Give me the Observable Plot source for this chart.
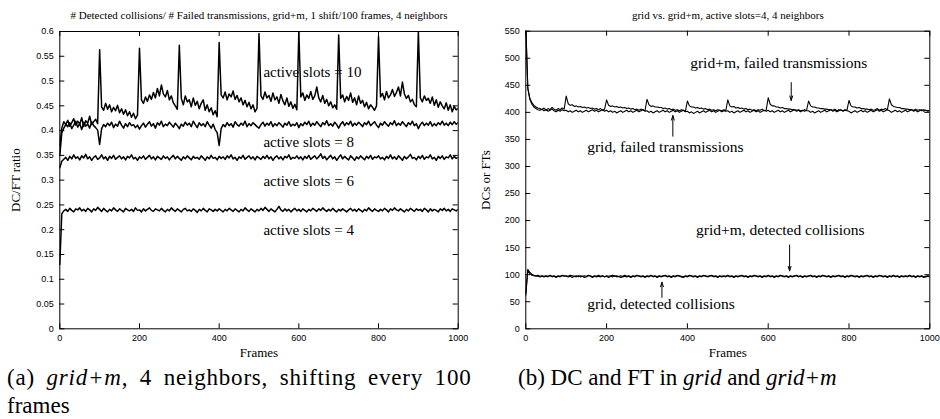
<!DOCTYPE html>
<html><head><meta charset="utf-8">
<script src="https://cdn.jsdelivr.net/npm/d3@7"></script>
<script src="https://cdn.jsdelivr.net/npm/@observablehq/plot@0.6"></script>
<style>
body{margin:0;background:#fff;width:940px;height:419px;position:relative;overflow:hidden}
#a{position:absolute;left:0;top:0}
#b{position:absolute;left:470px;top:0}
.cap{position:absolute;font-family:"Liberation Serif";font-size:23px;line-height:28px;color:#000;white-space:nowrap}
#capA .l1{word-spacing:5px;letter-spacing:0.8px}
</style></head><body>
<div id="a"></div><div id="b"></div>
<div id="capA" class="cap" style="left:7px;top:364px"></div>
<div id="capB" class="cap" style="left:518px;top:364px"></div>
<script>
// ---------- data (frame step = 5) ----------
const frameStep = 5;
const xTicks = [0, 200, 400, 600, 800, 1000];
const yTicksA = [0, 0.05, 0.1, 0.15, 0.2, 0.25, 0.3, 0.35, 0.4, 0.45, 0.5, 0.55, 0.6];
const yTicksB = [0, 50, 100, 150, 200, 250, 300, 350, 400, 450, 500, 550];

const slots10 = [
0.370,0.405,0.418,0.412,0.421,0.409,0.416,0.424,0.411,0.419,
0.413,0.426,0.408,0.420,0.415,0.429,0.412,0.418,0.423,0.414,
0.563,0.448,0.441,0.455,0.443,0.452,0.438,0.447,0.440,0.451,
0.436,0.444,0.433,0.442,0.430,0.438,0.427,0.435,0.424,0.431,
0.566,0.462,0.455,0.468,0.459,0.472,0.463,0.477,0.466,0.485,
0.470,0.492,0.474,0.468,0.481,0.462,0.470,0.456,0.450,0.443,
0.572,0.465,0.452,0.470,0.458,0.462,0.448,0.466,0.451,0.459,
0.444,0.455,0.462,0.441,0.452,0.438,0.446,0.432,0.440,0.428,
0.578,0.472,0.466,0.478,0.462,0.474,0.468,0.480,0.463,0.471,
0.458,0.466,0.452,0.461,0.448,0.457,0.444,0.452,0.438,0.445,
0.596,0.470,0.463,0.478,0.466,0.471,0.459,0.476,0.462,0.468,
0.455,0.473,0.460,0.452,0.466,0.449,0.458,0.445,0.453,0.442,
0.600,0.468,0.476,0.461,0.472,0.465,0.479,0.463,0.470,0.488,
0.466,0.458,0.471,0.455,0.463,0.450,0.458,0.446,0.452,0.443,
0.593,0.465,0.472,0.458,0.469,0.461,0.476,0.457,0.466,0.452,
0.470,0.455,0.461,0.448,0.457,0.444,0.452,0.447,0.441,0.450,
0.590,0.468,0.475,0.462,0.479,0.466,0.472,0.483,0.469,0.477,
0.488,0.470,0.498,0.474,0.465,0.471,0.458,0.463,0.452,0.448,
0.600,0.466,0.458,0.470,0.461,0.465,0.455,0.468,0.451,0.462,
0.447,0.458,0.450,0.444,0.456,0.441,0.452,0.438,0.449,0.442,
0.445];
const slots8 = [
0.350,0.395,0.405,0.412,0.408,0.416,0.404,0.411,0.419,0.407,
0.414,0.402,0.417,0.409,0.413,0.405,0.418,0.410,0.406,0.401,
0.372,0.404,0.412,0.408,0.415,0.410,0.417,0.406,0.413,0.409,
0.419,0.411,0.405,0.414,0.408,0.416,0.410,0.412,0.406,0.411,
0.403,0.410,0.415,0.407,0.413,0.418,0.409,0.414,0.405,0.416,
0.411,0.419,0.408,0.413,0.410,0.417,0.412,0.407,0.415,0.410,
0.404,0.413,0.409,0.417,0.411,0.415,0.408,0.419,0.412,0.406,
0.416,0.410,0.414,0.408,0.418,0.411,0.405,0.413,0.402,0.396,
0.370,0.404,0.412,0.408,0.416,0.410,0.414,0.407,0.418,0.412,
0.409,0.415,0.411,0.419,0.408,0.414,0.410,0.416,0.412,0.408,
0.405,0.412,0.417,0.409,0.415,0.411,0.418,0.408,0.414,0.410,
0.416,0.412,0.407,0.415,0.411,0.418,0.409,0.413,0.410,0.416,
0.406,0.414,0.410,0.417,0.412,0.419,0.409,0.415,0.411,0.418,
0.413,0.408,0.416,0.412,0.420,0.410,0.414,0.409,0.417,0.412,
0.405,0.413,0.418,0.410,0.416,0.412,0.419,0.409,0.415,0.411,
0.417,0.413,0.408,0.416,0.412,0.419,0.410,0.414,0.418,0.411,
0.406,0.415,0.411,0.418,0.413,0.409,0.416,0.412,0.420,0.410,
0.415,0.411,0.418,0.413,0.408,0.416,0.412,0.419,0.410,0.414,
0.404,0.412,0.417,0.410,0.415,0.411,0.418,0.409,0.414,0.410,
0.416,0.412,0.419,0.411,0.415,0.410,0.417,0.412,0.418,0.413,
0.416];
const slots6 = [
0.325,0.338,0.342,0.346,0.340,0.348,0.343,0.351,0.344,0.347,
0.341,0.349,0.345,0.352,0.343,0.347,0.340,0.346,0.349,0.342,
0.345,0.351,0.343,0.347,0.340,0.348,0.344,0.350,0.342,0.346,
0.349,0.343,0.347,0.341,0.348,0.345,0.351,0.343,0.346,0.340,
0.347,0.344,0.349,0.342,0.346,0.350,0.343,0.347,0.341,0.348,
0.345,0.342,0.349,0.344,0.347,0.341,0.346,0.350,0.343,0.348,
0.344,0.340,0.347,0.343,0.349,0.345,0.341,0.348,0.344,0.346,
0.342,0.349,0.345,0.340,0.347,0.343,0.350,0.344,0.346,0.341,
0.348,0.344,0.347,0.342,0.349,0.345,0.351,0.343,0.346,0.340,
0.347,0.344,0.350,0.342,0.346,0.349,0.343,0.347,0.341,0.348,
0.345,0.342,0.348,0.344,0.350,0.343,0.347,0.340,0.346,0.349,
0.343,0.347,0.341,0.348,0.345,0.351,0.342,0.346,0.344,0.349,
0.343,0.347,0.341,0.348,0.344,0.350,0.342,0.346,0.349,0.343,
0.347,0.353,0.344,0.348,0.341,0.346,0.350,0.343,0.347,0.340,
0.346,0.351,0.343,0.348,0.344,0.341,0.349,0.345,0.340,0.347,
0.343,0.349,0.345,0.341,0.348,0.344,0.350,0.342,0.347,0.345,
0.349,0.343,0.346,0.341,0.348,0.344,0.351,0.343,0.347,0.342,
0.349,0.345,0.340,0.348,0.343,0.347,0.352,0.344,0.346,0.341,
0.348,0.344,0.350,0.342,0.347,0.345,0.351,0.343,0.346,0.340,
0.348,0.344,0.349,0.342,0.347,0.345,0.351,0.343,0.348,0.344,
0.346];
const slots4 = [
0.130,0.232,0.238,0.241,0.237,0.243,0.239,0.236,0.242,0.240,
0.244,0.238,0.241,0.237,0.243,0.240,0.236,0.242,0.239,0.245,
0.241,0.237,0.243,0.239,0.236,0.241,0.238,0.244,0.240,0.237,
0.242,0.239,0.236,0.243,0.240,0.238,0.241,0.237,0.244,0.239,
0.240,0.236,0.242,0.238,0.241,0.244,0.239,0.237,0.242,0.240,
0.238,0.243,0.239,0.236,0.241,0.238,0.244,0.240,0.237,0.242,
0.239,0.236,0.241,0.243,0.238,0.240,0.237,0.242,0.239,0.235,
0.241,0.238,0.243,0.239,0.236,0.242,0.240,0.237,0.241,0.238,
0.242,0.239,0.236,0.241,0.238,0.243,0.240,0.237,0.242,0.239,
0.236,0.241,0.238,0.244,0.240,0.237,0.242,0.239,0.236,0.241,
0.238,0.243,0.239,0.245,0.241,0.237,0.242,0.239,0.236,0.241,
0.247,0.240,0.237,0.242,0.238,0.241,0.236,0.240,0.243,0.238,
0.241,0.237,0.242,0.239,0.236,0.241,0.238,0.243,0.240,0.237,
0.242,0.239,0.244,0.240,0.237,0.241,0.238,0.243,0.239,0.236,
0.241,0.238,0.242,0.239,0.236,0.240,0.243,0.238,0.241,0.237,
0.242,0.239,0.236,0.241,0.238,0.244,0.240,0.237,0.242,0.239,
0.237,0.241,0.238,0.243,0.240,0.236,0.242,0.239,0.244,0.240,
0.238,0.242,0.239,0.236,0.241,0.238,0.243,0.240,0.237,0.242,
0.239,0.241,0.237,0.243,0.240,0.236,0.242,0.238,0.241,0.239,
0.236,0.242,0.239,0.243,0.238,0.241,0.237,0.242,0.240,0.238,
0.241];

const ftGridM = [
560,445,426,418,413,410,408,407,405,408,
404,407,405,409,406,404,407,405,408,406,
430,416,413,414,411,412,410,411,409,410,
408,409,407,408,406,407,405,407,404,406,
423,413,411,412,410,411,409,410,408,409,
407,408,406,407,405,406,404,406,405,403,
424,414,411,412,410,410,409,409,407,408,
406,407,405,406,404,405,403,405,404,402,
421,412,410,410,408,409,407,408,406,407,
405,406,404,405,403,405,404,403,405,403,
423,412,410,411,408,409,407,408,406,407,
405,406,404,405,403,405,404,406,403,404,
427,415,412,412,410,410,408,409,407,407,
406,406,405,405,404,405,403,404,402,404,
421,412,410,410,408,408,407,407,406,406,
405,405,404,406,403,405,404,403,405,404,
422,412,410,410,408,409,407,407,406,406,
405,406,404,405,407,404,406,405,407,405,
425,414,411,410,409,409,407,407,406,406,
405,405,404,406,404,405,403,405,404,403,
404];
const ftGrid = [
560,444,424,415,410,407,405,404,406,403,
405,402,404,406,403,401,404,402,405,403,
404,401,403,400,402,404,401,403,400,402,
404,401,403,405,402,404,401,403,405,402,
404,401,403,400,402,399,401,403,400,402,
404,401,403,400,402,404,401,403,405,402,
403,400,402,399,401,403,400,402,404,401,
403,400,402,404,401,403,400,402,404,401,
402,399,401,398,400,402,399,401,403,400,
402,404,401,403,400,402,404,401,403,402,
403,400,402,399,401,403,400,402,404,401,
403,400,402,404,401,403,400,402,404,402,
404,401,403,400,402,404,401,403,400,402,
404,401,403,405,402,404,401,403,405,403,
403,400,402,399,401,403,400,402,404,401,
403,405,402,404,401,403,405,402,404,403,
402,399,401,403,400,402,404,401,403,400,
402,404,401,403,405,402,404,401,403,405,
403,400,402,404,401,403,400,402,404,401,
403,405,402,404,401,403,405,402,404,402,
403];
const dcGridM = [
66,110,104,101,99,98,99,97,98,97,
98,97,99,97,98,96,98,97,99,98,
98,97,99,98,97,98,96,98,97,98,
97,99,98,96,98,97,99,97,98,96,
98,97,98,99,97,98,96,98,97,99,
97,98,96,98,97,99,98,97,98,96,
98,97,99,97,98,96,98,97,98,99,
97,98,96,98,97,99,98,97,96,98,
97,99,98,97,98,96,98,97,99,98,
97,98,99,97,98,96,98,97,98,97,
99,97,98,96,98,97,98,99,97,98,
96,98,97,99,98,97,98,96,98,97,
99,97,98,96,98,97,99,98,97,98,
96,98,97,98,99,97,98,96,98,97,
98,99,97,98,96,98,97,99,98,97,
98,96,98,97,98,99,97,98,96,98,
97,99,98,97,98,96,98,97,98,99,
97,98,96,98,97,99,98,97,98,96,
98,97,99,97,98,96,98,97,98,97,
99,97,98,96,98,97,98,96,97,98,
97];
const dcGrid = [
62,108,102,99,98,97,97,96,97,96,
97,96,98,96,97,95,97,96,98,97,
97,96,97,95,97,96,98,96,97,95,
96,98,97,95,97,96,97,96,98,96,
97,95,97,96,98,96,97,95,96,97,
96,97,95,97,96,98,97,96,97,95,
97,96,98,96,97,95,97,96,97,98,
96,97,95,97,96,98,97,96,95,97,
96,98,97,96,97,95,97,96,98,97,
96,97,98,96,97,95,97,96,97,96,
98,96,97,95,97,96,97,98,96,97,
95,97,96,98,97,96,97,95,97,96,
98,96,97,95,97,96,98,97,96,97,
95,97,96,97,98,96,97,95,97,96,
97,98,96,97,95,97,96,98,97,96,
97,95,97,96,97,98,96,97,95,97,
96,98,97,96,97,95,97,96,97,98,
96,97,95,97,96,98,97,96,97,95,
97,96,98,96,97,95,97,96,97,96,
98,96,97,95,97,96,97,95,96,97,
96];

// annotations
const labelsA = [
  {text: "active slots = 10", x: 511, y: 0.518},
  {text: "active slots = 8",  x: 511, y: 0.377},
  {text: "active slots = 6",  x: 511, y: 0.298},
  {text: "active slots = 4",  x: 511, y: 0.200}
];
const labelsBMid = [
  {text: "grid+m, failed transmissions", x: 626, y: 492},
  {text: "grid+m, detected collisions",  x: 630, y: 182}
];
const labelsBStart = [
  {text: "grid, failed transmissions", x: 152, y: 336},
  {text: "grid, detected collisions",  x: 152, y: 45}
];
const arrowsB = [
  {x: 657, y1: 455, y2: 422},
  {x: 364, y1: 356, y2: 394},
  {x: 653, y1: 155, y2: 107},
  {x: 337, y1: 58,  y2: 86}
];
const titleA = "# Detected collisions/ # Failed transmissions, grid+m, 1 shift/100 frames, 4 neighbors";
const titleB = "grid vs. grid+m, active slots=4, 4 neighbors";
const captionA1 = ["(a) ", ["grid+m"], ", 4 neighbors, shifting every 100"];
const captionA2 = ["frames"];
const captionB = ["(b) DC and FT in ", ["grid"], " and ", ["grid+m"]];

// ---------- build ----------
function toLong(named) {
  const out = [];
  for (const [name, vals] of Object.entries(named))
    vals.forEach((v, i) => out.push({series: name, frame: i * frameStep, value: v}));
  return out;
}
const dataA = toLong({slots10, slots8, slots6, slots4});
const dataB = toLong({ftGridM, ftGrid, dcGridM, dcGrid});

const SERIF = "Liberation Serif";
const SANS = "Liberation Sans";
function panel(o) {
  const W = 470, H = 360;
  const iw = W - o.ml - o.mr, ih = H - o.mt - o.mb;
  const marks = [
    Plot.axisX(xTicks, {tickSize: 0, tickPadding: 6, label: null, tickFormat: d => String(d)}),
    Plot.axisY(o.yTicks, {tickSize: 0, tickPadding: 6, label: null, tickFormat: d => String(d)}),
    Plot.ruleX(xTicks, {x: d => d, insetTop: ih - 5, stroke: "black"}),
    Plot.ruleX(xTicks, {x: d => d, insetBottom: ih - 5, stroke: "black"}),
    Plot.ruleY(o.yTicks, {y: d => d, insetRight: iw - 5, stroke: "black"}),
    Plot.ruleY(o.yTicks, {y: d => d, insetLeft: iw - 5, stroke: "black"}),
    Plot.lineY(o.data, {x: "frame", y: "value", z: "series", stroke: "black", strokeWidth: o.sw, clip: true}),
    Plot.frame({stroke: "black"}),
    Plot.text([o.title], {text: d => d, frameAnchor: "top", dy: -16, lineAnchor: "middle", fontFamily: SERIF, fontSize: 11}),
    Plot.text([o.ylabel], {text: d => d, frameAnchor: "left", rotate: -90, dx: o.ylabelDx, textAnchor: "middle", lineAnchor: "middle", fontFamily: SERIF, fontSize: 13}),
    Plot.text(["Frames"], {text: d => d, frameAnchor: "bottom", dy: 24, lineAnchor: "middle", fontFamily: SERIF, fontSize: 13}),
    ...o.extra
  ];
  return Plot.plot({
    width: W, height: H,
    marginLeft: o.ml, marginRight: o.mr, marginTop: o.mt, marginBottom: o.mb,
    style: {fontFamily: SANS, fontSize: "9px", background: "white", color: "black", overflow: "visible"},
    x: {domain: [0, 1000]},
    y: {domain: o.yDomain},
    marks
  });
}

document.getElementById("a").append(panel({
  data: dataA, yDomain: [0, 0.6], yTicks: yTicksA, title: titleA, ylabel: "DC/FT ratio", ylabelDx: -44, sw: 1.5,
  ml: 59.3, mr: 12.3, mt: 31, mb: 31.7,
  extra: [Plot.text(labelsA, {x: "x", y: "y", text: "text", textAnchor: "start", fontFamily: SERIF, fontSize: 15})]
}));
document.getElementById("b").append(panel({
  data: dataB, yDomain: [0, 550], yTicks: yTicksB, title: titleB, ylabel: "DCs or FTs", ylabelDx: -40, sw: 1.1,
  ml: 55.3, mr: 10.7, mt: 30.7, mb: 31.7,
  extra: [
    Plot.text(labelsBMid, {x: "x", y: "y", text: "text", textAnchor: "middle", fontFamily: SERIF, fontSize: 15.5}),
    Plot.text(labelsBStart, {x: "x", y: "y", text: "text", textAnchor: "start", fontFamily: SERIF, fontSize: 15.5}),
    Plot.arrow(arrowsB, {x1: "x", x2: "x", y1: "y1", y2: "y2", stroke: "black", strokeWidth: 1, headLength: 7, headAngle: 35})
  ]
}));

function fillLine(el, parts, cls) {
  const line = document.createElement("div");
  if (cls) line.className = cls;
  for (const p of parts) {
    if (Array.isArray(p)) { const i = document.createElement("i"); i.textContent = p[0]; line.append(i); }
    else line.append(document.createTextNode(p));
  }
  el.append(line);
}
fillLine(document.getElementById("capA"), captionA1, "l1");
fillLine(document.getElementById("capA"), captionA2, "l2");
fillLine(document.getElementById("capB"), captionB, "l1b");
</script>
</body></html>
